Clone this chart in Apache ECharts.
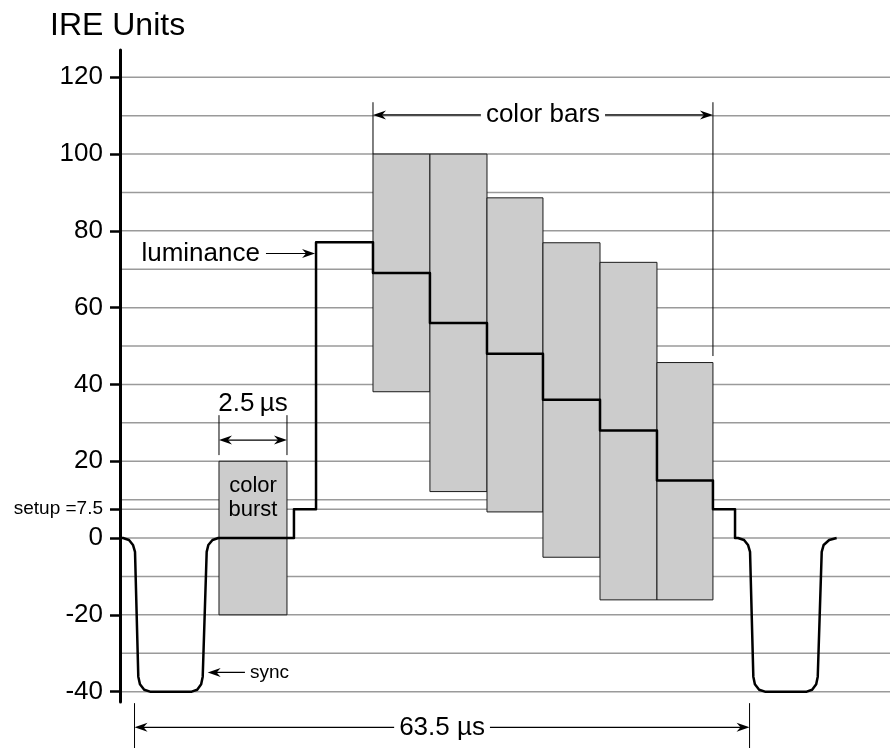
<!DOCTYPE html>
<html>
<head>
<meta charset="utf-8">
<script src="https://cdn.jsdelivr.net/npm/echarts@6.0.0/dist/echarts.min.js"></script>
<style>
  html, body { margin: 0; padding: 0; background: #fff; }
  #chart { width: 890px; height: 748px; }
</style>
</head>
<body>
<div id="chart"></div>
<script>
// x in µs (0 = leading edge of sync), y in IRE units
const yTickValues = [-40, -20, 0, 7.5, 20, 40, 60, 80, 100, 120];
const gridValues = [-40, -30, -20, -10, 0, 7.5, 10, 20, 30, 40, 50, 60, 70, 80, 90, 100, 110, 120];

// sync pulses (rounded corners)
const syncLeftX = [-1.5, -1.19, -0.57, -0.16, 0.05, 0.39, 0.56, 1.0, 1.6, 5.9, 6.47, 6.88, 7.04, 7.45, 7.62, 8.05, 8.65];
const syncLeftY = [0, 0, -0.5, -1.8, -3.6, -36.1, -38.1, -39.5, -40, -40, -39.5, -38.1, -36.1, -3.6, -1.8, -0.5, 0];
const syncRightX = [62.0, 62.31, 62.93, 63.34, 63.55, 63.89, 64.05, 64.49, 65.09, 69.4, 69.96, 70.38, 70.54, 70.95, 71.15, 71.72, 72.49];
const syncRightY = [0, 0, -0.5, -1.8, -3.6, -36.1, -38.1, -39.5, -40, -40, -39.5, -38.1, -36.1, -3.6, -1.8, -0.5, 0];

// back porch steps before the bars
const porchSteps = [16.46, 18.74];
const porchLevels = [7.5, 77];
const setupLevel = 7.5;
const frontPorchEnd = 62.0;

// colour bars
const barEdges = [24.62, 30.5, 36.39, 42.17, 48.06, 53.94, 59.72];
const barTops = [100, 100, 88.6, 76.9, 71.8, 45.7];
const barBottoms = [38.1, 12.1, 6.8, -5.0, -16.1, -16.1];
const barLuma = [69, 56, 48, 36, 28, 15];

// colour burst
const burstStart = 8.72;
const burstEnd = 15.74;
const burstTop = 20;
const burstBottom = -20;

// luminance trace
let wave = [];
syncLeftX.forEach((x, i) => wave.push([x, syncLeftY[i]]));
let level = 0;
porchSteps.forEach((x, i) => {
  wave.push([x, level]);
  level = porchLevels[i];
  wave.push([x, level]);
});
barLuma.forEach((v, i) => {
  wave.push([barEdges[i], level]);
  level = v;
  wave.push([barEdges[i], level]);
});
wave.push([barEdges[6], level]);
level = setupLevel;
wave.push([barEdges[6], level]);
wave.push([frontPorchEnd, level]);
syncRightX.forEach((x, i) => wave.push([x, syncRightY[i]]));

let rects = [[burstStart, burstEnd, burstTop, burstBottom]];
barTops.forEach((t, i) => rects.push([barEdges[i], barEdges[i + 1], t, barBottoms[i]]));

const FONT = "'Liberation Sans', Arial, Helvetica, sans-serif";

// dimension arrows
const dims = [
  { x0: barEdges[0], x1: barEdges[6], y: 110.2, ext0: [113.5, 100], ext1: [113.5, 47.4], text: "color bars", textY: 110.2, size: 26, gap: true },
  { x0: burstStart, x1: burstEnd, y: 25.5, ext0: [32.0, 21.6], ext1: [32.0, 21.6], text: "2.5\u2009\u00b5s", textY: 35.0, size: 26, gap: false },
  { x0: 0, x1: 63.5, y: -49.3, ext0: [-43.0, -55], ext1: [-43.0, -55], text: "63.5 \u00b5s", textY: -49.3, size: 26, gap: true },
];

// labelled arrows
const callouts = [
  { tail: 13.57, tip: 18.64, y: 74.1, text: "luminance", textX: 12.95, align: "right", size: 26 },
  { tail: 11.4, tip: 7.55, y: -35.0, text: "sync", textX: 11.92, align: "left", size: 19 },
];

function arrowHead(x, y, dir) {
  const L = 13, H = 4.5, N = 9;
  return {
    type: "polygon",
    shape: { points: [[x, y], [x - dir * L, y - H], [x - dir * N, y], [x - dir * L, y + H]] },
    style: { fill: "#000" },
  };
}

let chart = echarts.init(document.getElementById("chart"));
let option = {
  animation: false,
  backgroundColor: "#fff",
  title: {
    text: "IRE Units",
    left: 50,
    top: 10,
    padding: 0,
    textStyle: { fontSize: 32, fontWeight: "normal", color: "#000", fontFamily: FONT },
  },
  grid: { left: 120, right: 0, top: 50, bottom: 46, outerBoundsMode: "none" },
  xAxis: {
    type: "value",
    min: -1.5,
    max: 78,
    show: false,
  },
  yAxis: {
    type: "value",
    min: -42.7,
    max: 127.1,
    axisLine: { show: true, onZero: false, lineStyle: { color: "#000", width: 3 } },
    axisTick: {
      show: true,
      customValues: yTickValues,
      length: 10,
      lineStyle: { color: "#000", width: 2.5 },
    },
    axisLabel: {
      customValues: yTickValues,
      margin: 17,
      color: "#000",
      fontSize: 26,
      fontFamily: FONT,
      formatter: (v) => (v === 7.5 ? "{s|setup =7.5}" : String(v)),
      rich: { s: { fontSize: 19, fontFamily: FONT, color: "#000" } },
    },
    splitLine: { show: false },
  },
  series: [
    {
      type: "custom",
      z: 0,
      silent: true,
      data: gridValues.map((v) => [0, v]),
      encode: { x: 0, y: 1 },
      renderItem: (params, api) => {
        const p = api.coord([0, api.value(1)]);
        const cs = params.coordSys;
        return {
          type: "line",
          shape: { x1: cs.x, y1: p[1], x2: cs.x + cs.width, y2: p[1] },
          style: { stroke: "#9a9a9a", lineWidth: 1.5 },
        };
      },
    },
    {
      type: "custom",
      z: 1,
      silent: true,
      data: rects,
      encode: { x: [0, 1], y: [2, 3] },
      renderItem: (params, api) => {
        const p0 = api.coord([api.value(0), api.value(2)]);
        const p1 = api.coord([api.value(1), api.value(3)]);
        return {
          type: "rect",
          shape: { x: p0[0], y: p0[1], width: p1[0] - p0[0], height: p1[1] - p0[1] },
          style: { fill: "#cccccc", stroke: "#1a1a1a", lineWidth: 1 },
        };
      },
    },
    {
      type: "custom",
      z: 2,
      silent: true,
      data: [[burstStart, 0]],
      encode: { x: 0, y: 1 },
      renderItem: (params, api) => {
        const c = api.coord([(burstStart + burstEnd) / 2, 10]);
        return {
          type: "text",
          style: {
            text: "color\nburst",
            x: c[0],
            y: c[1] - 2,
            align: "center",
            verticalAlign: "middle",
            lineHeight: 24,
            fill: "#000",
            font: "22px " + FONT,
          },
        };
      },
    },
    {
      type: "line",
      z: 3,
      data: wave,
      showSymbol: false,
      silent: true,
      clip: false,
      lineStyle: { color: "#000", width: 2.5, join: "round" },
    },
    {
      type: "custom",
      z: 4,
      silent: true,
      clip: false,
      data: dims.map((d) => [d.x0, d.y]),
      encode: { x: 0, y: 1 },
      renderItem: (params, api) => {
        const d = dims[params.dataIndex];
        const a = api.coord([d.x0, d.y]);
        const b = api.coord([d.x1, d.y]);
        const kids = [];
        [[d.x0, d.ext0], [d.x1, d.ext1]].forEach(([x, e]) => {
          const p = api.coord([x, e[0]]);
          const q = api.coord([x, e[1]]);
          kids.push({ type: "line", shape: { x1: p[0], y1: p[1], x2: q[0], y2: q[1] }, style: { stroke: "#000", lineWidth: 1 } });
        });
        kids.push({ type: "line", shape: { x1: a[0] + 4, y1: a[1], x2: b[0] - 4, y2: b[1] }, style: { stroke: "#000", lineWidth: 1.2 } });
        kids.push(arrowHead(a[0], a[1], -1));
        kids.push(arrowHead(b[0], b[1], 1));
        const t = api.coord([(d.x0 + d.x1) / 2, d.textY]);
        kids.push({
          type: "text",
          z2: 10,
          style: {
            text: d.text,
            x: t[0],
            y: t[1],
            align: "center",
            verticalAlign: "middle",
            fill: "#000",
            font: d.size + "px " + FONT,
            backgroundColor: d.gap ? "#fff" : "transparent",
            padding: d.gap ? [2, 5] : 0,
          },
        });
        return { type: "group", children: kids };
      },
    },
    {
      type: "custom",
      z: 4,
      silent: true,
      clip: false,
      data: callouts.map((c) => [c.tip, c.y]),
      encode: { x: 0, y: 1 },
      renderItem: (params, api) => {
        const c = callouts[params.dataIndex];
        const tail = api.coord([c.tail, c.y]);
        const tip = api.coord([c.tip, c.y]);
        const dir = c.tip > c.tail ? 1 : -1;
        const t = api.coord([c.textX, c.y]);
        return {
          type: "group",
          children: [
            { type: "line", shape: { x1: tail[0], y1: tail[1], x2: tip[0] - dir * 4, y2: tip[1] }, style: { stroke: "#000", lineWidth: 1.2 } },
            arrowHead(tip[0], tip[1], dir),
            {
              type: "text",
              style: {
                text: c.text,
                x: t[0],
                y: t[1],
                align: c.align,
                verticalAlign: "middle",
                fill: "#000",
                font: c.size + "px " + FONT,
              },
            },
          ],
        };
      },
    },
  ],
};
chart.setOption(option);
</script>
</body>
</html>
